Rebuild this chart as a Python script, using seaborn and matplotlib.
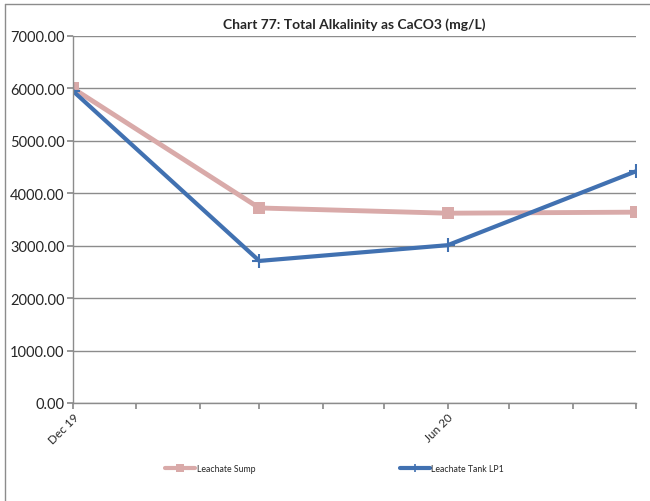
import matplotlib
matplotlib.use("Agg")
import matplotlib.pyplot as plt
from matplotlib.lines import Line2D
import seaborn as sns
import pandas as pd

dates = ["2019-12-01", "2020-03-01", "2020-06-01", "2020-09-01"]
sump = [6000.0, 3720.0, 3620.0, 3640.0]
tank_lp1 = [5950.0, 2710.0, 3010.0, 4420.0]
series_names = ["Leachate Sump", "Leachate Tank LP1"]
y_ticks = [0, 1000, 2000, 3000, 4000, 5000, 6000, 7000]
x_labels = {"2019-12-01": "Dec 19", "2020-06-01": "Jun 20"}

df = pd.DataFrame({
    "date": pd.to_datetime(dates * 2),
    "value": sump + tank_lp1,
    "series": [series_names[0]] * 4 + [series_names[1]] * 4,
})

sns.set_theme(style="white")
plt.rcParams["font.family"] = ["Lato", "DejaVu Sans"]

colors = {series_names[0]: "#D9AAA9", series_names[1]: "#4171B1"}

fig = plt.figure(figsize=(6.5, 5.02), dpi=100)
ax = fig.add_axes([73 / 650, 1 - 404 / 502, (636 - 73) / 650, (404 - 37) / 502])

sns.lineplot(data=df[df.series == series_names[0]], x="date", y="value",
             color=colors[series_names[0]], lw=3.5, marker="s", markersize=9,
             markeredgewidth=0, ax=ax, legend=False)
sns.lineplot(data=df[df.series == series_names[1]], x="date", y="value",
             color=colors[series_names[1]], lw=3, marker="+", markersize=10,
             markeredgewidth=1.5, markeredgecolor=colors[series_names[1]],
             ax=ax, legend=False)

x0 = pd.Timestamp("2019-12-01")
x1 = pd.Timestamp("2020-09-01")
ax.set_xlim(x0, x1)
ax.set_ylim(0, 7000)
ax.set_yticks(y_ticks)
ax.set_yticklabels([f"{v:.2f}" for v in y_ticks], fontsize=10.5)
ax.yaxis.grid(True, color="#8C8C8C", lw=1)
ax.set_axisbelow(True)

months = pd.date_range(x0, x1, freq="MS")
ax.set_xticks(months)
ax.set_xticklabels([x_labels.get(m.strftime("%Y-%m-%d"), "") for m in months],
                   rotation=45, ha="right", rotation_mode="anchor", fontsize=8.5)
ax.tick_params(axis="x", which="major", length=4, color="#8C8C8C", direction="out", bottom=True, pad=2)
ax.tick_params(axis="y", which="major", length=4, color="#8C8C8C", direction="out", left=True, pad=2)

for s in ["top", "right"]:
    ax.spines[s].set_visible(False)
for s in ["left", "bottom"]:
    ax.spines[s].set_color("#8C8C8C")
    ax.spines[s].set_linewidth(1)

ax.set_xlabel("")
ax.set_ylabel("")
ax.set_title("Chart 77: Total Alkalinity as CaCO3 (mg/L)", fontsize=10,
             fontweight="bold", pad=6)

handles = [
    Line2D([], [], color=colors[series_names[0]], lw=3, marker="s", markersize=6, markeredgewidth=0),
    Line2D([], [], color=colors[series_names[1]], lw=3, marker="+", markersize=6, markeredgewidth=1.2),
]
fig.legend(handles, series_names, loc="center", bbox_to_anchor=(0.515, 1 - 470 / 502),
           ncol=2, frameon=False, fontsize=6.3, columnspacing=16.5, handlelength=3.4,
           handletextpad=0.2)

# chart frame
fig.add_artist(Line2D([5 / 650, 5 / 650], [0, 1 - 5 / 502], transform=fig.transFigure,
                      color="#8C8C8C", lw=1))
fig.add_artist(Line2D([5 / 650, 1], [1 - 5 / 502, 1 - 5 / 502], transform=fig.transFigure,
                      color="#8C8C8C", lw=1))

fig.savefig("out.png", dpi=100)
